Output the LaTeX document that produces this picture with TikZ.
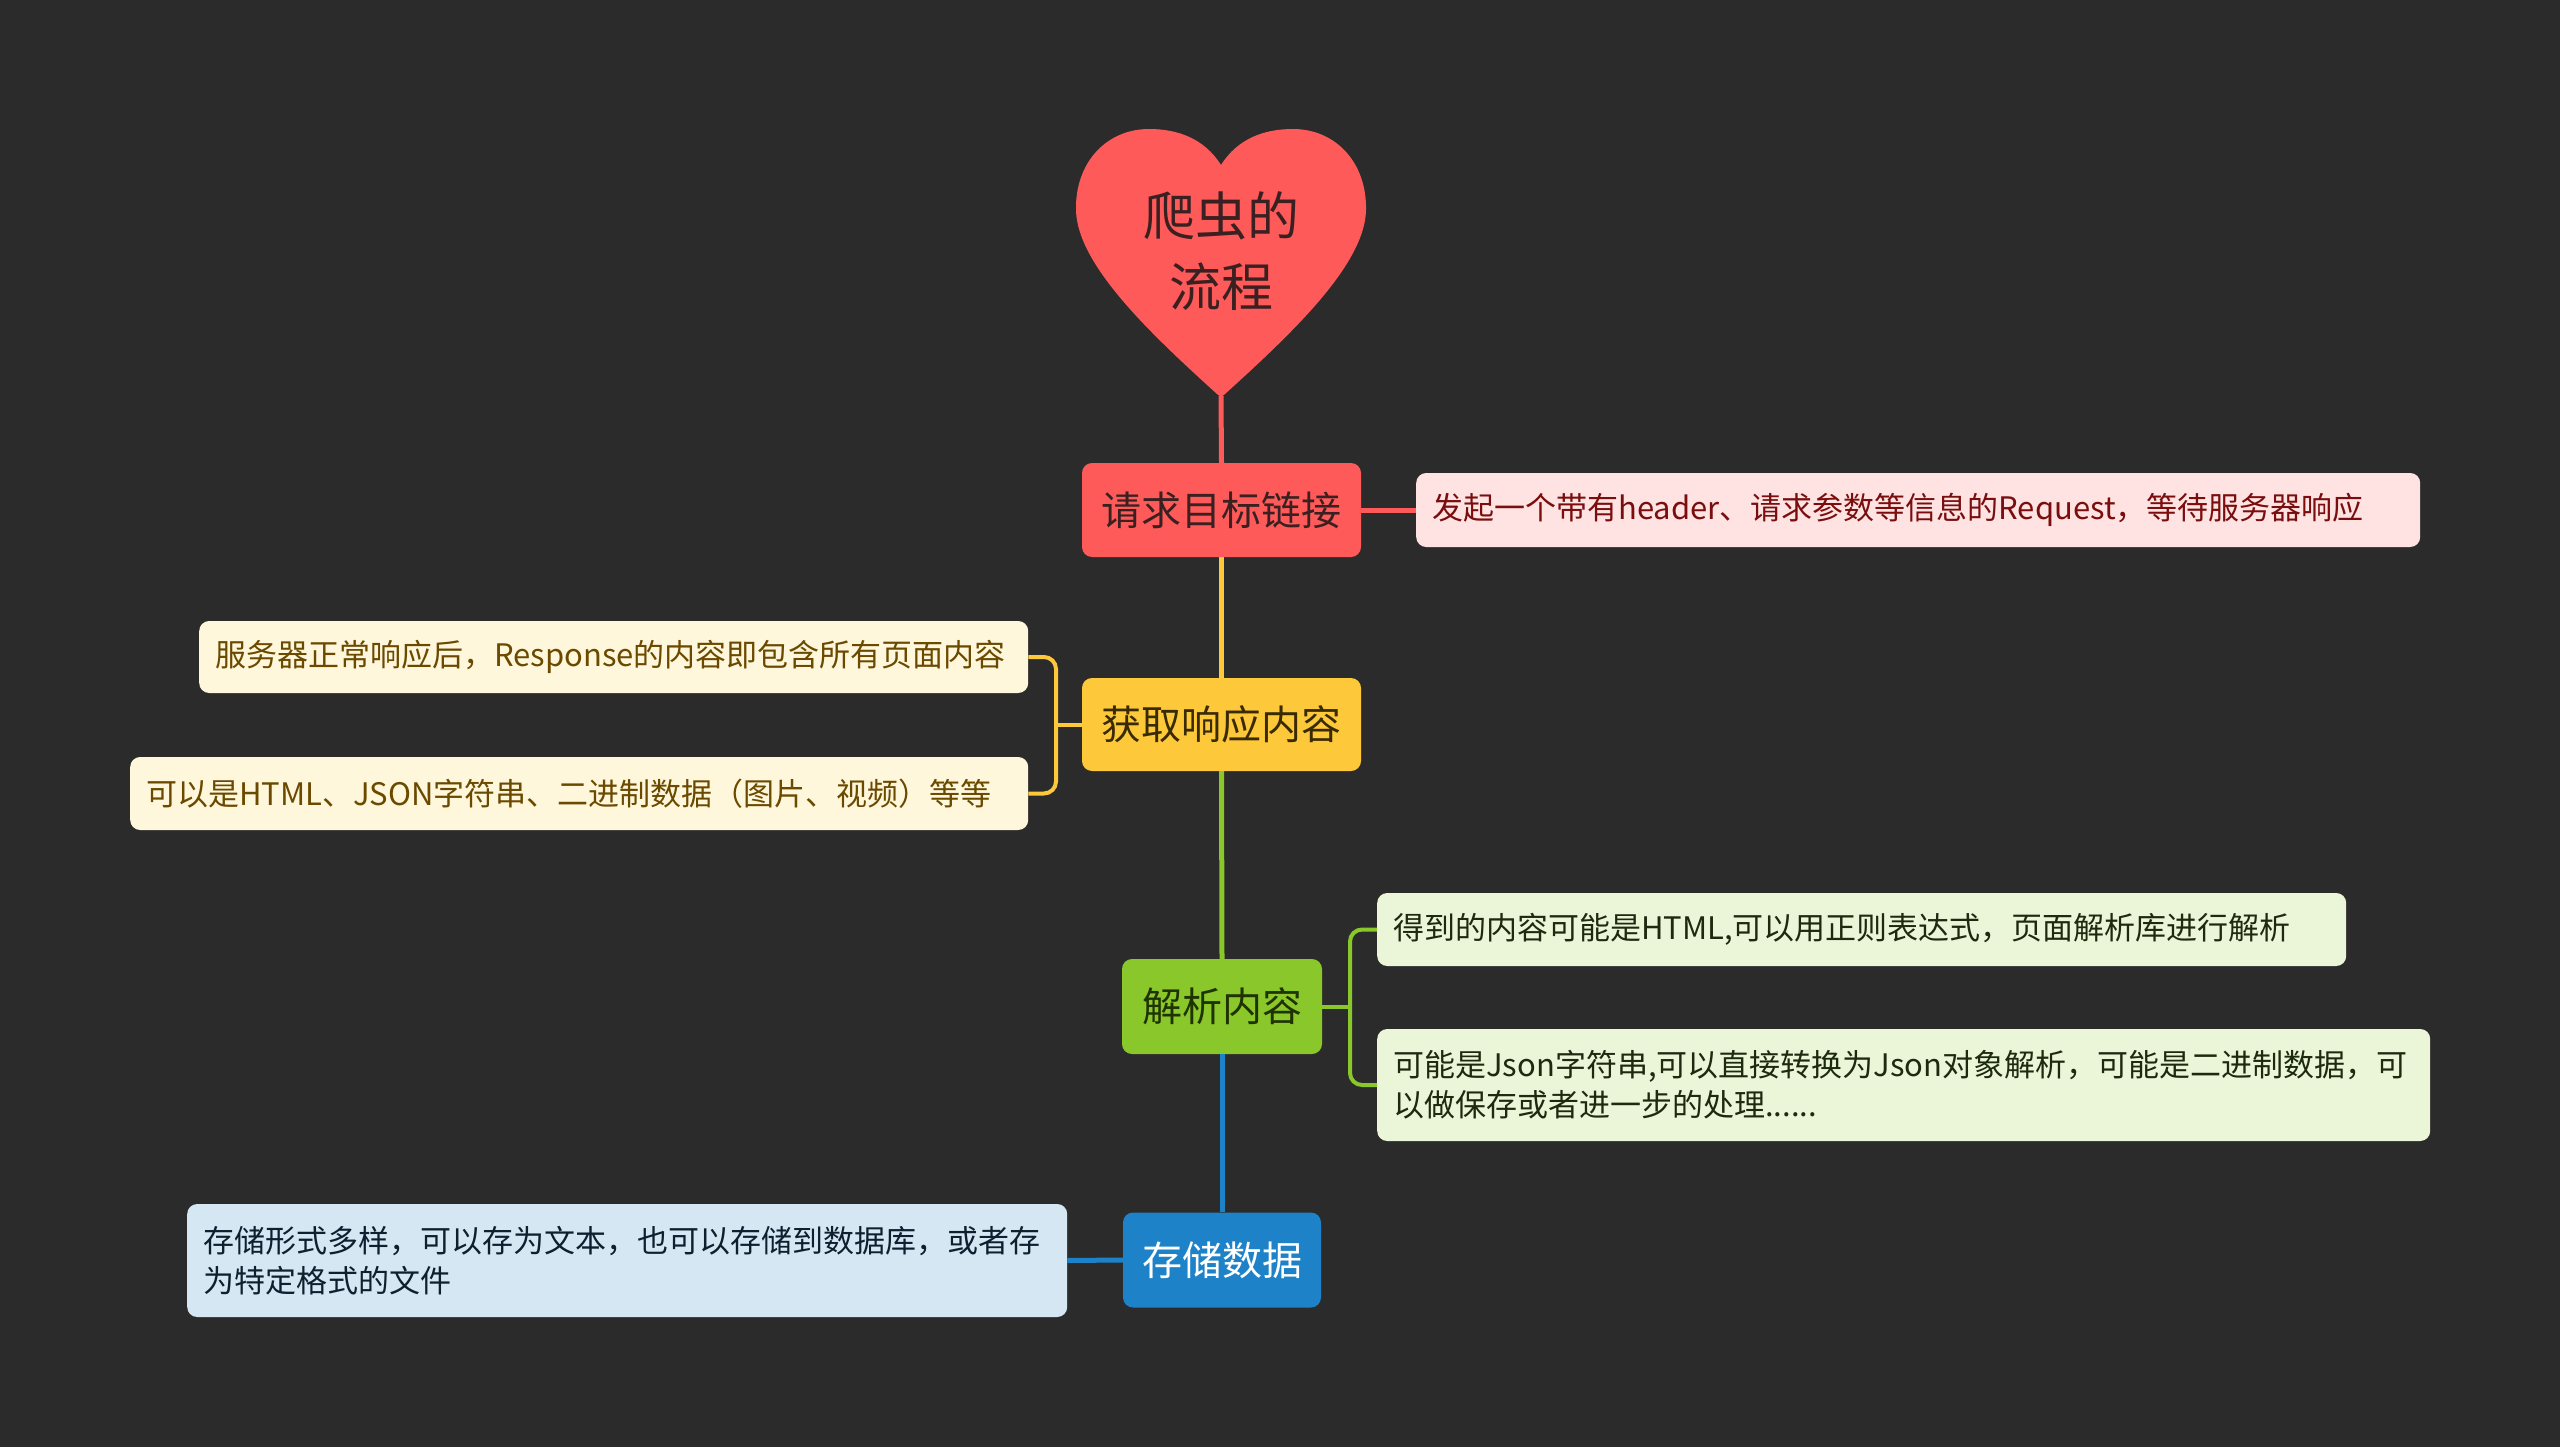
\documentclass[tikz,border=0pt]{standalone}
\usepackage{fontspec}
\newfontfamily\cjk{Noto Sans CJK SC}
\definecolor{bg}{HTML}{2B2B2B}
\definecolor{cred}{HTML}{FF5A5A}
\definecolor{credtxt}{HTML}{3A2020}
\definecolor{dred}{HTML}{FFE3E3}
\definecolor{dredtxt}{HTML}{7A0E0E}
\definecolor{cyel}{HTML}{FDC93A}
\definecolor{cyeltxt}{HTML}{3A2A00}
\definecolor{dyel}{HTML}{FFF7DC}
\definecolor{dyeltxt}{HTML}{6B4A00}
\definecolor{cgrn}{HTML}{8AC72A}
\definecolor{cgrntxt}{HTML}{1F3300}
\definecolor{dgrn}{HTML}{EBF5D8}
\definecolor{dgrntxt}{HTML}{1E2A10}
\definecolor{cblu}{HTML}{1E82C8}
\definecolor{dblu}{HTML}{D4E7F3}
\definecolor{dblutxt}{HTML}{0F1F2F}
\begin{document}
\begin{tikzpicture}[x=1pt,y=-1pt,
  topic/.style={inner sep=0pt, rounded corners=10pt, font=\cjk\fontsize{40}{48}\selectfont},
  detail/.style={inner xsep=16pt, inner ysep=0pt, rounded corners=10pt, anchor=west, align=left, font=\cjk\fontsize{31}{40}\selectfont},
  link/.style={line width=5pt},
  brk/.style={line width=4pt, rounded corners=12pt}
]
\fill[bg] (0,0) rectangle (2560,1447);
\useasboundingbox (0,0) rectangle (2560,1447);

% heart
\fill[cred] (1221,165) .. controls (1238,138) and (1265,129) .. (1293,129)
  .. controls (1335,129) and (1367,162) .. (1366,210)
  .. controls (1365,265) and (1290,335) .. (1225,394)
  .. controls (1222,397) and (1220,397) .. (1217,394)
  .. controls (1152,335) and (1077,265) .. (1076,210)
  .. controls (1075,162) and (1107,129) .. (1149,129)
  .. controls (1177,129) and (1204,138) .. (1221,165) -- cycle;
\node[font=\cjk\fontsize{52}{71}\selectfont, text=credtxt, align=center] (root) at (1221,251) {爬虫的\\流程};
\coordinate (tip) at (1221,396);

% main topics
\node[topic, fill=cred, text=credtxt, minimum width=279pt, minimum height=94pt] (n1) at (1221.5,510) {请求目标链接};
\node[topic, fill=cyel, text=cyeltxt, minimum width=279pt, minimum height=93pt] (n2) at (1221.5,724.5) {获取响应内容};
\node[topic, fill=cgrn, text=cgrntxt, minimum width=200pt, minimum height=95pt] (n3) at (1222,1006.5) {解析内容};
\node[topic, fill=cblu, text=white, minimum width=198pt, minimum height=95pt] (n4) at (1222,1260) {存储数据};

% trunk
\draw[link, cred] (tip) -- (n1.north);
\draw[link, cyel] (n1.south) -- (n2.north);
\draw[link, cgrn] (n2.south) -- (n3.north);
\draw[link, cblu] (n3.south) -- (n4.north);

% details
\node[detail, fill=dred, text=dredtxt, text width=972pt, minimum height=74pt] (d1) at (1416,510)
  {发起一个带有header、请求参数等信息的Request，等待服务器响应};
\node[detail, fill=dyel, text=dyeltxt, text width=797pt, minimum height=72pt] (d2a) at (199,657)
  {服务器正常响应后，Response的内容即包含所有页面内容};
\node[detail, fill=dyel, text=dyeltxt, text width=866pt, minimum height=73pt] (d2b) at (130,793.5)
  {可以是HTML、JSON字符串、二进制数据（图片、视频）等等};
\node[detail, fill=dgrn, text=dgrntxt, text width=937pt, minimum height=73pt] (d3a) at (1377,929.5)
  {得到的内容可能是HTML,可以用正则表达式，页面解析库进行解析};
\node[detail, fill=dgrn, text=dgrntxt, text width=1021pt, minimum height=112pt] (d3b) at (1377,1085)
  {可能是Json字符串,可以直接转换为Json对象解析，可能是二进制数据，可\\以做保存或者进一步的处理......};
\node[detail, fill=dblu, text=dblutxt, text width=848pt, minimum height=113pt] (d4) at (187,1260.5)
  {存储形式多样，可以存为文本，也可以存储到数据库，或者存\\为特定格式的文件};

% connectors to details
\draw[link, cred] (n1.east) -- (d1.west);

\coordinate (b2) at (1056,724.5);
\draw[brk, cyel] (d2a.east) -| (b2) |- (d2b.east);
\draw[brk, cyel] (n2.west) -- (b2);

\coordinate (b3) at (1350,1006.5);
\draw[brk, cgrn] (d3a.west) -| (b3) |- (d3b.west);
\draw[brk, cgrn] (n3.east) -- (b3);

\draw[link, cblu] (n4.west) -- (d4.east);
\end{tikzpicture}
\end{document}
